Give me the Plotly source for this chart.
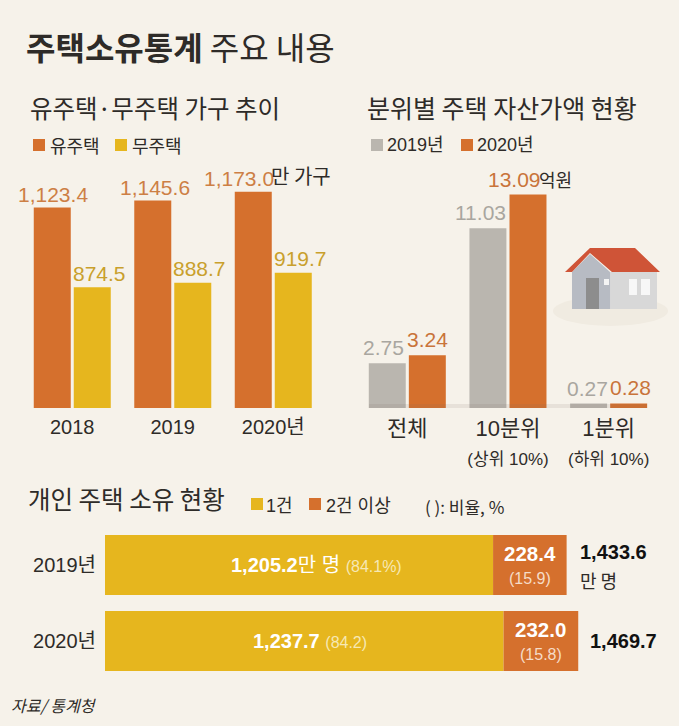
import plotly.graph_objects as go

W, H = 679, 726
FONT = "Noto Sans CJK KR"
NUM = "Liberation Sans, Noto Sans CJK KR"
BG = "#f6f2ea"
ORANGE = "#d5702d"
YELLOW = "#e6b61e"
GRAY = "#bab6af"
DARK = "#2e2b28"

# chart 1
years1 = ["2018", "2019", "2020년"]
owners = [1123.4, 1145.6, 1173.0]
nonowners = [874.5, 888.7, 919.7]
# chart 2
groups = ["전체", "10분위<br><span style='font-size:17px'>(상위 10%)</span>",
          "1분위<br><span style='font-size:17px'>(하위 10%)</span>"]
assets19 = [2.75, 11.03, 0.27]
assets20 = [3.24, 13.09, 0.28]
# chart 3
years3 = ["2019년", "2020년"]
single = [1205.2, 1237.7]
multi = [228.4, 232.0]
single_pct = [84.1, 84.2]
multi_pct = [15.9, 15.8]
totals = [1433.6, 1469.7]


def px(x):
    return x / W


def py(y):
    return 1 - y / H


def path(points):
    return "M" + " L".join(f"{px(x):.4f},{py(y):.4f}" for x, y in points) + " Z"


fig = go.Figure()
BW1, BW2 = 37 / 100.5, 37 / 100.75


def bar(name, cats, vals, color, offset, width, xa, ya):
    fig.add_trace(go.Bar(name=name, x=cats, y=vals, marker=dict(color=color, line_width=0),
                         width=width, offset=offset, xaxis=xa, yaxis=ya, hoverinfo="skip"))


bar("유주택", years1, owners, ORANGE, -0.383, BW1, "x", "y")
bar("무주택", years1, nonowners, YELLOW, 0.015, BW1, "x", "y")
bar("2019년", groups, assets19, GRAY, -0.383, BW2, "x2", "y2")
bar("2020년", groups, assets20, ORANGE, 0.015, BW2, "x2", "y2")
fig.add_trace(go.Bar(name="1건", y=years3, x=single, orientation="h", marker=dict(color=YELLOW, line_width=0),
                     width=0.79, xaxis="x3", yaxis="y3", hoverinfo="skip"))
fig.add_trace(go.Bar(name="2건 이상", y=years3, x=multi, base=single, orientation="h",
                     marker=dict(color=ORANGE, line_width=0),
                     width=0.79, xaxis="x3", yaxis="y3", hoverinfo="skip"))

ann = []


def note(text, x, y, size, color=DARK, anchor="left", family=FONT):
    ann.append(dict(text=text, x=px(x), y=py(y), xref="paper", yref="paper", xanchor=anchor,
                    yanchor="middle", showarrow=False, borderpad=0, font=dict(family=family, size=size, color=color)))


def vlabel(text, xv, yv, xa, ya, xs, ys, size, color, anchor="center", family=NUM):
    ann.append(dict(text=text, x=xv, y=yv, xref=xa, yref=ya, xanchor=anchor, yanchor="middle", borderpad=0,
                    xshift=xs, yshift=ys, showarrow=False, font=dict(family=family, size=size, color=color)))


note("<b>주택소유통계</b> 주요 내용", 25, 46, 32)
note("유주택·무주택 가구 추이", 29, 107, 24.5)
note("분위별 주택 자산가액 현황", 366, 107, 25)
note("개인 주택 소유 현황", 27, 498, 24.5)
note("( ): 비율, %", 424, 506, 17)
note("<i>자료/ 통계청</i>", 10, 705, 16)

L_ORANGE = "#cd7f45"
L_YELLOW = "#c9a02c"
L_GRAY = "#a9a69f"

shift_a = [-19.5, -18, -34.5]
shift_b = [27.5, 27, 27.5]
for i in range(3):
    vlabel(f"{owners[i]:,.1f}", i, owners[i], "x", "y", shift_a[i], 13.5, 21, L_ORANGE)
    vlabel(f"{nonowners[i]:,.1f}", i, nonowners[i], "x", "y", shift_b[i], 14, 21, L_YELLOW)
vlabel("만 가구", 2, owners[2], "x", "y", 27.5, 16, 20, DARK, family=FONT)

shift_c = [-23.5, -28, -21]
shift_d = [20.5, 6, 22]
for i in range(3):
    vlabel(f"{assets19[i]:.2f}", i, assets19[i], "x2", "y2", shift_c[i], 15.5, 21, L_GRAY)
    vlabel(f"{assets20[i]:.2f}", i, assets20[i], "x2", "y2", shift_d[i], 15.5, 21, "#c9743a")
vlabel("억원", 1, assets20[1], "x2", "y2", 47, 16, 18, DARK, family=FONT)

small = "<span style='font-size:16px;fill:#f6e8b4'>"
white = "#ffffff"
vlabel(f"<b>{single[0]:,.1f}</b>만 명 {small}({single_pct[0]}%)</span>", single[0] / 2, 0, "x3", "y3", 17, 0, 20, white)
vlabel(f"<b>{single[1]:,.1f}</b> {small}({single_pct[1]})</span>", single[1] / 2, 1, "x3", "y3", 6, 0, 20, white)
for i in range(2):
    mid = single[i] + multi[i] / 2
    vlabel(f"<b>{multi[i]:.1f}</b>", mid, i, "x3", "y3", 0, 12, 20.5, white)
    vlabel(f"({multi_pct[i]})", mid, i, "x3", "y3", 0, -13, 16, "#f5dcc8")
vlabel(f"<b>{totals[0]:,.1f}</b>", totals[0], 0, "x3", "y3", 12, 13, 20, "#111111", "left")
vlabel("만 명", totals[0], 0, "x3", "y3", 12, -15, 18, DARK, "left", FONT)
vlabel(f"<b>{totals[1]:,.1f}</b>", totals[1], 1, "x3", "y3", 11, 0, 20, "#111111", "left")


def rect(x0, y0, x1, y1, color, layer="above"):
    return dict(type="rect", xref="paper", yref="paper", x0=px(x0), x1=px(x1), y0=py(y1), y1=py(y0),
                fillcolor=color, line_width=0, layer=layer)


def poly(points, color):
    return dict(type="path", xref="paper", yref="paper", path=path(points), fillcolor=color, line_width=0)


# legend keys
legend_items = [
    ("유주택", ORANGE, 33, 145, 49, FONT),
    ("무주택", YELLOW, 115, 145, 131, FONT),
    ("2019년", GRAY, 371, 145, 386, NUM),
    ("2020년", ORANGE, 461, 145, 476, NUM),
    ("1건", YELLOW, 251, 504, 265, NUM),
    ("2건 이상", ORANGE, 309, 504, 325, NUM),
]
shapes = []
for label, color, sx, sy, tx, fam in legend_items:
    shapes.append(rect(sx, sy - 6, sx + 12, sy + 6, color))
    note(label, tx, sy + (0 if sy < 200 else 2), 18, family=fam)

# house illustration (decoration) and shadows
shapes += [
    dict(type="circle", xref="paper", yref="paper", x0=px(553), x1=px(668), y0=py(326), y1=py(296),
         fillcolor="#f0ebe1", line_width=0, layer="below"),
    poly([(610, 272), (657, 272), (657, 309), (610, 309)], "#d8d8d8"),
    poly([(572, 272), (590, 254), (610, 272), (610, 309), (572, 309)], "#b7bbc3"),
    poly([(565, 272), (590, 248), (635, 248), (660, 272), (612, 272), (590, 253), (572, 272)], "#cf5437"),
    poly([(586, 278), (599, 278), (599, 309), (586, 309)], "#8d8d8d"),
    poly([(604, 279), (609, 279), (609, 285), (604, 285)], "#f4f4f4"),
    poly([(629, 279), (637, 279), (637, 295), (629, 295)], "#f7f7f7"),
    poly([(641, 279), (650, 279), (650, 295), (641, 295)], "#f7f7f7"),
    rect(369, 404, 647, 408, "rgba(120,110,100,0.12)"),
]

tick = dict(color=DARK)
hidden_tick = dict(ticks="outside", tickcolor="rgba(0,0,0,0)", tickwidth=1)

fig.update_layout(
    width=W, height=H, margin=dict(l=0, r=0, t=0, b=0), autosize=False,
    paper_bgcolor=BG, plot_bgcolor="rgba(0,0,0,0)", barmode="overlay", showlegend=False,
    annotations=ann, shapes=shapes,
    xaxis=dict(domain=[px(22), px(323.5)], type="category", range=[-0.5, 2.5], showline=False, showgrid=False,
               ticklen=1, tickfont=dict(size=20, family=NUM, **tick), anchor="y", **hidden_tick),
    yaxis=dict(domain=[py(408), py(170)], range=[497, 1241], visible=False, anchor="x"),
    xaxis2=dict(domain=[px(357), px(659)], type="category", range=[-0.5, 2.5], showline=False, showgrid=False,
                ticklen=1, tickfont=dict(size=22, family=NUM, **tick), anchor="y2", **hidden_tick),
    yaxis2=dict(domain=[py(408), py(170)], range=[0, 14.6], visible=False, anchor="x2"),
    xaxis3=dict(domain=[px(105), px(679)], range=[0, 574 / 0.322], visible=False, anchor="y3"),
    yaxis3=dict(domain=[py(679), py(527)], type="category", autorange="reversed", showline=False, showgrid=False,
                ticklen=4, tickfont=dict(size=20, family=NUM, **tick), anchor="x3", **hidden_tick),
)

fig.write_html("out.html", config={"displayModeBar": False},
               post_script="document.body.style.margin='0';document.body.style.background='#f6f2ea';document.documentElement.style.overflow='hidden';")
